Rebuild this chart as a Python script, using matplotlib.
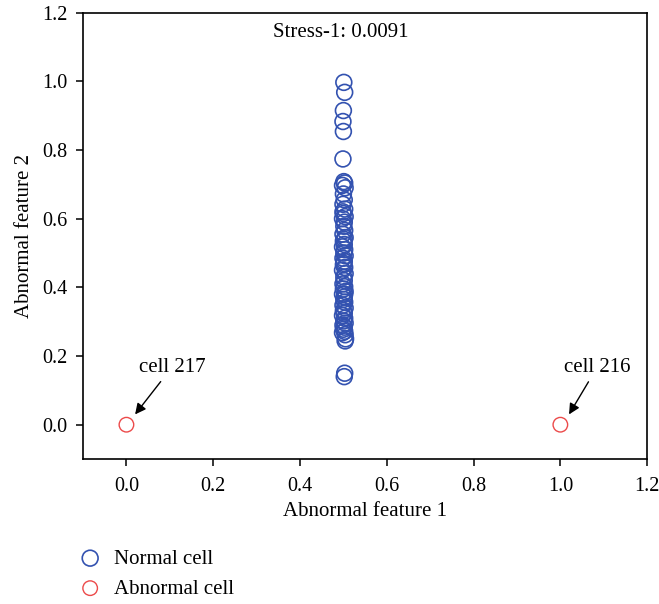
import matplotlib
matplotlib.use("Agg")
import matplotlib.pyplot as plt
import numpy as np

plt.rcParams["font.family"] = ["Liberation Serif", "DejaVu Serif"]

# normal cells (x jitter around 0.5)
normal_x = [0.501, 0.503, 0.500, 0.499, 0.500, 0.499,
            0.501, 0.503, 0.498, 0.504, 0.500, 0.502, 0.499, 0.503,
            0.500, 0.504, 0.498, 0.502, 0.501, 0.503, 0.499, 0.504,
            0.500, 0.502, 0.498, 0.503, 0.501, 0.504, 0.499, 0.502,
            0.500, 0.503, 0.498, 0.504, 0.501, 0.502, 0.499, 0.503,
            0.500, 0.504, 0.498, 0.502, 0.501, 0.503, 0.499, 0.504,
            0.500, 0.502, 0.498, 0.503, 0.501, 0.504, 0.499, 0.502,
            0.500, 0.503, 0.498, 0.504, 0.501, 0.502, 0.499, 0.503,
            0.505, 0.504, 0.503, 0.502]
normal_y = [0.997, 0.968, 0.915, 0.883, 0.854, 0.774,
            0.708, 0.704, 0.697, 0.690, 0.672, 0.655, 0.642, 0.628,
            0.615, 0.606, 0.600, 0.590, 0.578, 0.566, 0.555, 0.545,
            0.535, 0.525, 0.518, 0.510, 0.500, 0.492, 0.485, 0.476,
            0.466, 0.458, 0.450, 0.440, 0.430, 0.420, 0.410, 0.402,
            0.395, 0.388, 0.380, 0.372, 0.365, 0.357, 0.348, 0.340,
            0.332, 0.325, 0.318, 0.310, 0.302, 0.296, 0.290, 0.284,
            0.278, 0.272, 0.268, 0.262, 0.470, 0.540, 0.620, 0.380,
            0.250, 0.244, 0.150, 0.140]

abnormal_x = [0.0, 1.0]
abnormal_y = [0.0, 0.0]
abnormal_labels = ["cell 217", "cell 216"]
label_pos = [(0.105, 0.140), (1.085, 0.140)]
stress_text = "Stress-1: 0.0091"

blue = "#3352b0"
red = "#ec4a4a"

fig = plt.figure(figsize=(6.59, 6.04), dpi=100)
ax = fig.add_axes([0.126, 0.240, 0.856, 0.739])

ax.scatter(normal_x, normal_y, s=130, facecolors="none", edgecolors=blue,
           linewidths=1.2, label="Normal cell", zorder=3)
ax.scatter(abnormal_x, abnormal_y, s=110, facecolors="none", edgecolors=red,
           linewidths=1.0, label="Abnormal cell", zorder=3)

for (px, py), lab, (tx, ty) in zip(zip(abnormal_x, abnormal_y), abnormal_labels, label_pos):
    ax.annotate(lab, xy=(px + 0.02, py + 0.03), xytext=(tx, ty),
                ha="center", va="bottom", fontsize=15,
                arrowprops=dict(arrowstyle="-|>", color="black", lw=1.0,
                                mutation_scale=16, shrinkA=2, shrinkB=0))

ax.text(0.493, 1.142, stress_text, ha="center", va="center", fontsize=15)

ax.set_xlim(-0.1, 1.2)
ax.set_ylim(-0.1, 1.2)
ax.set_xticks(np.arange(0, 1.21, 0.2))
ax.set_yticks(np.arange(0, 1.21, 0.2))
ax.xaxis.set_major_formatter(matplotlib.ticker.FormatStrFormatter("%.1f"))
ax.yaxis.set_major_formatter(matplotlib.ticker.FormatStrFormatter("%.1f"))
ax.tick_params(direction="out", length=5, width=1.1, labelsize=14.5, pad=6)
ax.tick_params(axis="x", pad=8)
for sp in ax.spines.values():
    sp.set_linewidth(1.2)
ax.set_xlabel("Abnormal feature 1", fontsize=15, labelpad=4)
ax.set_ylabel("Abnormal feature 2", fontsize=15, labelpad=6)

fig.legend(loc="upper left", bbox_to_anchor=(0.121, 0.091), frameon=False,
           fontsize=15, handlelength=1.0, handletextpad=0.65, labelspacing=0.5,
           borderaxespad=0, borderpad=0)

fig.savefig("out.png", dpi=100)
